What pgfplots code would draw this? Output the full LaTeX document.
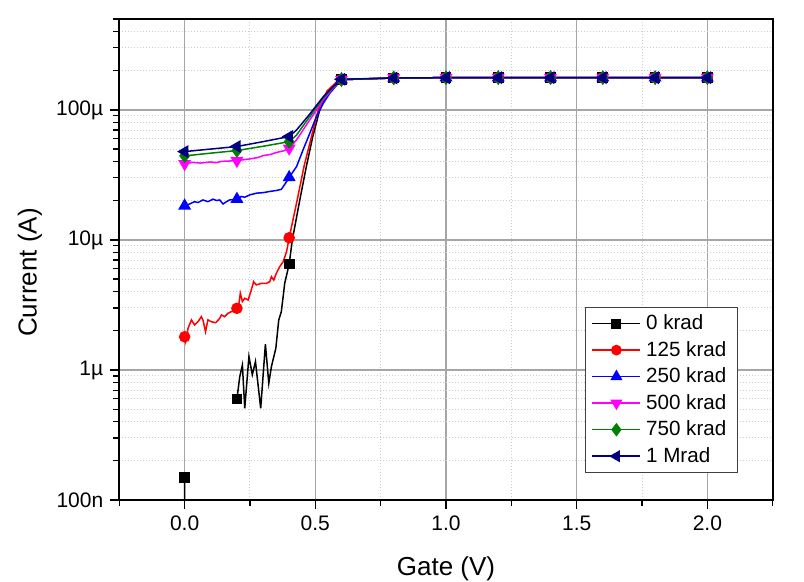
\documentclass[border=0pt]{standalone}
\usepackage{pgfplots}
\pgfplotsset{compat=1.18}
\usepackage{fontspec}
\setmainfont{Liberation Sans}
\definecolor{cgreen}{RGB}{0,128,0}
\definecolor{cnavy}{RGB}{0,0,128}
\definecolor{cmag}{RGB}{255,0,255}
\definecolor{cred}{RGB}{255,0,0}
\definecolor{cblue}{RGB}{0,0,255}
\begin{document}
\begin{tikzpicture}
\path[use as bounding box] (0,0) rectangle (402pt,291pt);
\begin{axis}[
  at={(59.65pt,41pt)}, anchor=south west,
  scale only axis, width=326.7pt, height=240.5pt,
  xmin=-0.25, xmax=2.25,
  ymode=log, ymin=1e-7, ymax=5e-4,
  xtick={0,0.5,1,1.5,2}, minor xtick={-0.25,0.25,0.75,1.25,1.75,2.25},
  ytick={1e-7,1e-6,1e-5,1e-4},
  yticklabels={100n,1µ,10µ,100µ},
  minor ytick={2e-7,3e-7,4e-7,5e-7,6e-7,7e-7,8e-7,9e-7,
               2e-6,3e-6,4e-6,5e-6,6e-6,7e-6,8e-6,9e-6,
               2e-5,3e-5,4e-5,5e-5,6e-5,7e-5,8e-5,9e-5,
               2e-4,3e-4,4e-4,5e-4},
  xticklabel style={/pgf/number format/.cd, fixed, fixed zerofill, precision=1, assume math mode=true},
  tick label style={font=\fontsize{10.5}{12}\selectfont},
  xtick pos=left, ytick pos=left,
  tick align=outside,
  major tick length=4.5pt, minor tick length=3pt,
  tick style={black, line width=0.6pt},
  axis line style={black, line width=1pt},
  grid=both,
  major grid style={black!35, line width=0.6pt, solid},
  minor grid style={black!20, line width=0.5pt, densely dotted},
  xlabel={Gate (V)}, ylabel={Current (A)},
  label style={font=\fontsize{13}{15}\selectfont},
  xlabel style={at={(axis description cs:0.5,-0.143)}, anchor=center},
  ylabel style={at={(axis description cs:-0.137,0.473)}, anchor=center},
  unbounded coords=jump,
  legend style={at={(axis description cs:0.713,0.401)}, anchor=north west,
    draw=black!75, line width=0.5pt, fill=white, font=\fontsize{10.3}{12}\selectfont,
    inner xsep=3pt, inner ysep=1.5pt, row sep=0.3pt,
    nodes={inner xsep=2.5pt}},
  legend cell align=left,
  legend image code/.code={\draw[mark repeat=2,mark phase=2] plot coordinates {(0pt,0pt) (12pt,0pt) (24pt,0pt)};},
  every axis plot/.append style={line width=0.75pt},
]
% ---------- 0 krad (black) ----------
\addplot[black, no marks, forget plot] coordinates {
(0,1.49e-7) (0.001,1e-8) (0.1,nan)
(0.2,5.98e-7) (0.211,8.9e-7) (0.221,1.09e-6) (0.230,5.07e-7) (0.246,1.27e-6)
(0.259,9.2e-7) (0.271,1.16e-6) (0.291,5.07e-7) (0.309,1.58e-6) (0.322,7.9e-7)
(0.332,1.06e-6) (0.349,1.47e-6) (0.360,2.42e-6) (0.370,2.81e-6) (0.383,4.65e-6)
(0.4,6.53e-6) (0.412,1.0e-5) (0.44,2.0e-5) (0.466,3.7e-5) (0.49,6.2e-5)
(0.517,1.0e-4) (0.55,1.4e-4) (0.58,1.62e-4) (0.6,1.71e-4) (0.8,1.76e-4)
(1.0,1.77e-4) (1.2,1.77e-4) (1.4,1.77e-4) (1.6,1.77e-4) (1.8,1.77e-4) (2.0,1.77e-4)};
\addplot[black, only marks, mark=square*, mark size=2.3pt, forget plot] coordinates {
(0,1.49e-7) (0.2,5.98e-7) (0.4,6.53e-6) (0.6,1.71e-4) (0.8,1.76e-4)
(1.0,1.77e-4) (1.2,1.77e-4) (1.4,1.77e-4) (1.6,1.77e-4) (1.8,1.77e-4) (2.0,1.77e-4)};
% ---------- 125 krad (red) ----------
\addplot[cred, no marks, forget plot] coordinates {
(0.000,1.80e-6) (0.004,1.65e-6) (0.013,2.09e-6) (0.026,2.43e-6) (0.038,2.22e-6)
(0.051,2.35e-6) (0.064,2.57e-6) (0.070,2.43e-6) (0.080,1.97e-6) (0.089,2.43e-6)
(0.102,2.35e-6) (0.119,2.31e-6) (0.134,2.49e-6) (0.141,2.65e-6) (0.153,2.57e-6)
(0.166,2.73e-6) (0.179,2.81e-6) (0.2,2.98e-6) (0.208,3.26e-6) (0.213,3.89e-6)
(0.221,3.36e-6) (0.230,3.56e-6) (0.243,3.45e-6) (0.255,4.12e-6) (0.264,4.78e-6)
(0.274,4.51e-6) (0.294,4.64e-6) (0.313,4.64e-6) (0.326,4.78e-6) (0.332,5.22e-6)
(0.341,4.92e-6) (0.351,5.55e-6) (0.364,6.24e-6) (0.377,6.81e-6) (0.39,8.13e-6)
(0.4,1.04e-5) (0.43,2.0e-5) (0.457,3.7e-5) (0.485,6.2e-5) (0.511,1.0e-4)
(0.545,1.4e-4) (0.58,1.63e-4) (0.6,1.71e-4) (0.8,1.76e-4)
(1.0,1.77e-4) (1.2,1.77e-4) (1.4,1.77e-4) (1.6,1.77e-4) (1.8,1.77e-4) (2.0,1.77e-4)};
\addplot[cred, only marks, mark=*, mark size=2.5pt, forget plot] coordinates {
(0,1.80e-6) (0.2,2.98e-6) (0.4,1.04e-5) (0.6,1.71e-4) (0.8,1.76e-4)
(1.0,1.77e-4) (1.2,1.77e-4) (1.4,1.77e-4) (1.6,1.77e-4) (1.8,1.77e-4) (2.0,1.77e-4)};
% ---------- 250 krad (blue) ----------
\addplot[cblue, no marks, forget plot] coordinates {
(0,1.83e-5) (0.019,1.89e-5) (0.038,1.97e-5) (0.051,1.94e-5) (0.070,2.03e-5)
(0.089,1.97e-5) (0.109,2.06e-5) (0.121,2.01e-5) (0.134,2.03e-5) (0.147,1.89e-5)
(0.160,1.97e-5) (0.172,2.03e-5) (0.2,2.06e-5) (0.217,2.16e-5) (0.230,2.13e-5)
(0.249,2.22e-5) (0.275,2.29e-5) (0.300,2.31e-5) (0.326,2.36e-5) (0.351,2.40e-5)
(0.370,2.45e-5) (0.390,2.81e-5) (0.4,3.03e-5) (0.428,3.66e-5) (0.453,4.92e-5)
(0.479,6.62e-5) (0.504,8.88e-5) (0.530,1.12e-4) (0.555,1.34e-4) (0.6,1.71e-4)
(0.8,1.76e-4) (1.0,1.77e-4) (1.2,1.77e-4) (1.4,1.77e-4) (1.6,1.77e-4) (1.8,1.77e-4) (2.0,1.77e-4)};
\addplot[cblue, only marks, mark=triangle*, mark size=3pt, forget plot] coordinates {
(0,1.83e-5) (0.2,2.06e-5) (0.4,3.03e-5) (0.6,1.71e-4) (0.8,1.76e-4)
(1.0,1.77e-4) (1.2,1.77e-4) (1.4,1.77e-4) (1.6,1.77e-4) (1.8,1.77e-4) (2.0,1.77e-4)};
% ---------- 500 krad (magenta) ----------
\addplot[cmag, no marks, forget plot] coordinates {
(0,3.85e-5) (0.03,3.95e-5) (0.06,3.90e-5) (0.1,3.98e-5) (0.12,3.93e-5) (0.14,4.02e-5) (0.2,4.07e-5)
(0.23,4.15e-5) (0.25,4.2e-5) (0.28,4.30e-5) (0.3,4.45e-5) (0.33,4.55e-5) (0.35,4.7e-5) (0.38,4.85e-5) (0.4,5.07e-5)
(0.428,5.88e-5) (0.479,8.38e-5) (0.530,1.19e-4) (0.565,1.45e-4) (0.6,1.71e-4)
(0.8,1.76e-4) (1.0,1.77e-4) (1.2,1.77e-4) (1.4,1.77e-4) (1.6,1.77e-4) (1.8,1.77e-4) (2.0,1.77e-4)};
\addplot[cmag, only marks, mark=triangle*, mark options={rotate=180}, mark size=3pt, forget plot] coordinates {
(0,3.85e-5) (0.2,4.07e-5) (0.4,5.07e-5) (0.6,1.71e-4) (0.8,1.76e-4)
(1.0,1.77e-4) (1.2,1.77e-4) (1.4,1.77e-4) (1.6,1.77e-4) (1.8,1.77e-4) (2.0,1.77e-4)};
% ---------- 750 krad (green) ----------
\addplot[cgreen, no marks, forget plot] coordinates {
(0,4.43e-5) (0.1,4.65e-5) (0.2,4.87e-5) (0.3,5.25e-5) (0.4,5.70e-5)
(0.428,6.4e-5) (0.479,8.9e-5) (0.530,1.23e-4) (0.565,1.47e-4) (0.6,1.71e-4)
(0.8,1.76e-4) (1.0,1.77e-4) (1.2,1.77e-4) (1.4,1.77e-4) (1.6,1.77e-4) (1.8,1.77e-4) (2.0,1.77e-4)};
\addplot[cgreen, only marks, mark=diamond*, mark size=3pt, forget plot] coordinates {
(0,4.43e-5) (0.2,4.87e-5) (0.4,5.70e-5) (0.6,1.71e-4) (0.8,1.76e-4)
(1.0,1.77e-4) (1.2,1.77e-4) (1.4,1.77e-4) (1.6,1.77e-4) (1.8,1.77e-4) (2.0,1.77e-4)};
% ---------- 1 Mrad (navy) ----------
\addplot[cnavy, no marks, forget plot] coordinates {
(0,4.78e-5) (0.1,5.0e-5) (0.2,5.23e-5) (0.3,5.7e-5) (0.4,6.24e-5)
(0.428,7.0e-5) (0.479,9.3e-5) (0.530,1.26e-4) (0.565,1.49e-4) (0.6,1.72e-4)
(0.8,1.76e-4) (1.0,1.77e-4) (1.2,1.77e-4) (1.4,1.77e-4) (1.6,1.77e-4) (1.8,1.77e-4) (2.0,1.77e-4)};
\addplot[cnavy, only marks, mark=triangle*, mark options={rotate=90}, mark size=3pt, forget plot] coordinates {
(0,4.78e-5) (0.2,5.23e-5) (0.4,6.24e-5) (0.6,1.72e-4) (0.8,1.76e-4)
(1.0,1.77e-4) (1.2,1.77e-4) (1.4,1.77e-4) (1.6,1.77e-4) (1.8,1.77e-4) (2.0,1.77e-4)};
% ---------- legend ----------
\addlegendimage{black, line width=0.75pt, mark=square*, mark size=2.1pt}
\addlegendentry{0 krad}
\addlegendimage{cred, line width=0.75pt, mark=*, mark size=2.3pt}
\addlegendentry{125 krad}
\addlegendimage{cblue, line width=0.75pt, mark=triangle*, mark size=2.8pt}
\addlegendentry{250 krad}
\addlegendimage{cmag, line width=0.75pt, mark=triangle*, mark options={rotate=180}, mark size=2.8pt}
\addlegendentry{500 krad}
\addlegendimage{cgreen, line width=0.75pt, mark=diamond*, mark size=2.8pt}
\addlegendentry{750 krad}
\addlegendimage{cnavy, line width=0.75pt, mark=triangle*, mark options={rotate=90}, mark size=2.8pt}
\addlegendentry{1 Mrad}
\end{axis}
\end{tikzpicture}
\end{document}
